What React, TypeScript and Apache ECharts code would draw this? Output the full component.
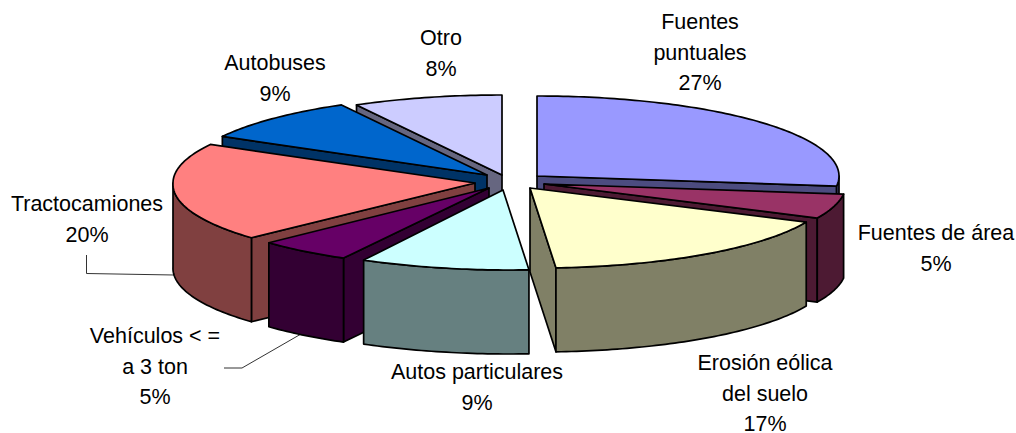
import React, { useEffect, useRef } from "react";
import * as echarts from "echarts";

const categories = ["Fuentes\npuntuales", "Fuentes de área", "Erosión eólica\ndel suelo", "Autos particulares", "Vehículos < =\na 3 ton", "Tractocamiones", "Autobuses", "Otro"];
const values = [27, 5, 17, 9, 5, 20, 9, 8];
const topColors = ["#9999FF", "#993366", "#FFFFCC", "#CCFFFF", "#660066", "#FF8080", "#0066CC", "#CCCCFF"];
const wallColors = ["#4C4C80", "#4D1A33", "#808066", "#668080", "#330033", "#804040", "#003366", "#666680"];

// layout of the exploded slices
const apexX = [537, 544, 530, 503, 489, 475, 487, 502];
const apexY = [176, 184, 188, 190, 188, 183, 175, 175];
const shearX = [0, 0, 7, 7, 0, -5, 0, 0];
const drawOrder = [7, 6, 0, 5, 1, 4, 2, 3];
const labelX = [700, 936, 765, 477, 155, 87, 275, 441];
const labelTop = [7, 218, 348, 357, 321, 189, 48, 23];
const RX = 302;
const RY = 80;
const DEPTH = 84;
const total = values.reduce((a, b) => a + b, 0);
const starts: number[] = [];
values.reduce((acc, v, i) => {
  starts[i] = acc;
  return acc + v;
}, 0);

const deg = (v: number) => (v / total) * 360;

function renderItem(_: any, api: any) {
  const i = api.value(0) as number;
  const a0 = deg(starts[i]);
  const a1 = deg(starts[i] + values[i]);
  const pt = (d: number, h = 0): number[] => {
    const t = (d * Math.PI) / 180;
    return [
      apexX[i] + RX * Math.sin(t) + shearX[i] * Math.max(0, -Math.cos(t)),
      apexY[i] - RY * Math.cos(t) + h,
    ];
  };
  const arc = (from: number, to: number, h = 0) => {
    const pts: number[][] = [];
    const n = Math.max(2, Math.ceil(Math.abs(to - from)));
    for (let k = 0; k <= n; k++) pts.push(pt(from + ((to - from) * k) / n, h));
    return pts;
  };
  const apex = [apexX[i], apexY[i]];
  const line = { stroke: "#000", lineWidth: 1.7, lineJoin: "round" };
  const children: any[] = [];
  const wall = (points: number[][]) =>
    children.push({ type: "polygon", shape: { points }, style: { fill: wallColors[i], ...line } });
  const radial = (d: number) => {
    const p = pt(d);
    wall([apex, p, [p[0], p[1] + DEPTH], [apex[0], apex[1] + DEPTH]]);
  };
  if (Math.sin((a0 * Math.PI) / 180) < -1e-6) radial(a0);
  if (Math.sin((a1 * Math.PI) / 180) > 1e-6) radial(a1);
  const f0 = Math.max(a0, 90);
  const f1 = Math.min(a1, 270);
  if (f1 > f0) wall([...arc(f0, f1), ...arc(f1, f0, DEPTH)]);
  children.push({
    type: "polygon",
    shape: { points: [apex, ...arc(a0, a1)] },
    style: { fill: topColors[i], ...line },
  });
  return { type: "group", children };
}

export default function App() {
  const ref = useRef<HTMLDivElement>(null);
  useEffect(() => {
    const chart = echarts.init(ref.current!, undefined, { renderer: "svg" });
    const labels = categories.map((c, i) => ({
      type: "text",
      x: labelX[i],
      y: labelTop[i],
      style: {
        text: `${c}\n${values[i]}%`,
        fontFamily: "Liberation Sans",
        fontSize: 21.5,
        lineHeight: 30.5,
        fill: "#000",
        align: "center",
        verticalAlign: "top",
      },
    }));
    const leader = { stroke: "#333", lineWidth: 1, fill: "none" };
    chart.setOption({
      animation: false,
      backgroundColor: "#fff",
      series: [
        {
          type: "custom",
          coordinateSystem: "none",
          silent: true,
          clip: false,
          renderItem,
          data: drawOrder.map((i) => [i]),
        },
      ],
      graphic: [
        ...labels,
        { type: "polyline", shape: { points: [[86.5, 255], [86.5, 273.5], [174, 275]] }, style: leader },
        { type: "polyline", shape: { points: [[224, 368], [242, 368], [301, 334]] }, style: leader },
      ],
    });
    return () => chart.dispose();
  }, []);
  return <div ref={ref} style={{ position: "absolute", left: 0, top: 0, width: 1016, height: 433 }} />;
}
